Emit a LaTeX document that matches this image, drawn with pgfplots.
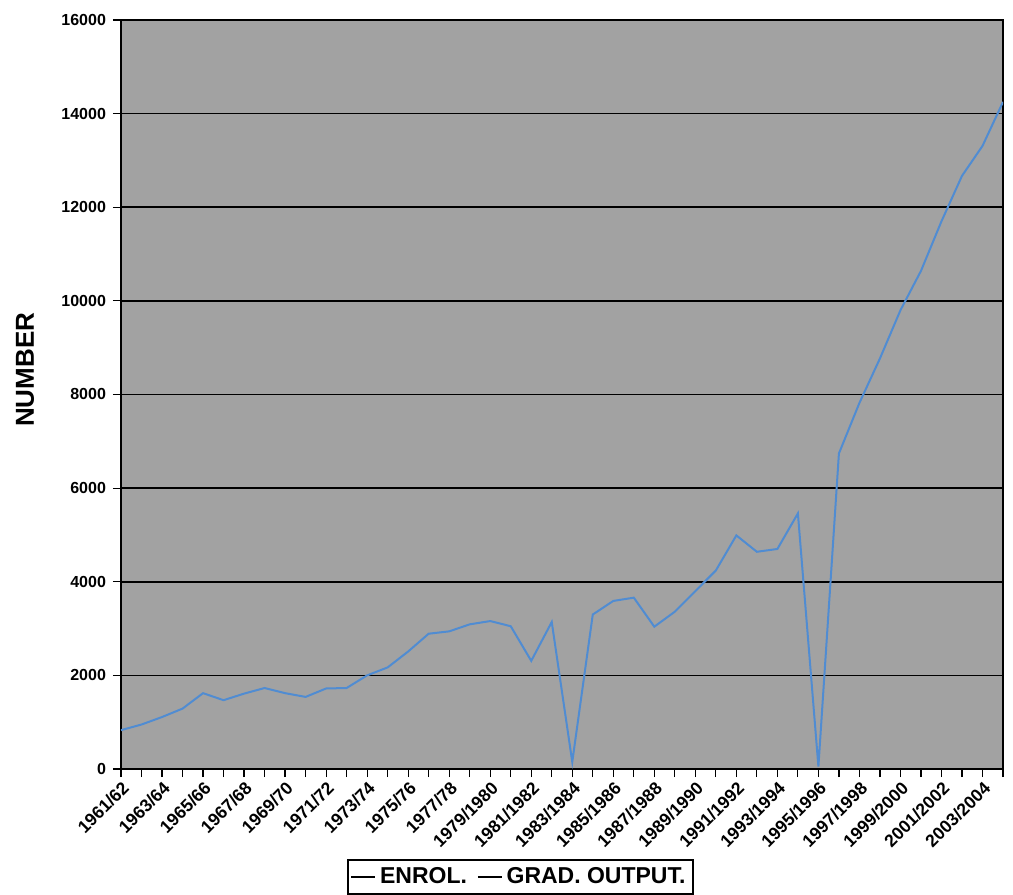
\documentclass[border=0pt]{standalone}
\usepackage{pgfplots}
\pgfplotsset{compat=1.18}
\usepackage{fontspec}
\setmainfont{Liberation Sans}
\definecolor{bgfill}{RGB}{162,162,162}
\definecolor{lineblue}{RGB}{80,140,210}
\begin{document}
\begin{tikzpicture}
\begin{axis}[
  scale only axis, width=441pt, height=374.5pt,
  xmin=0, xmax=43, ymin=0, ymax=16000,
  ytick={0,2000,...,16000},
  xtick={0,2,...,42},
  minor xtick={1,3,...,43},
  xticklabels={1961/62,1963/64,1965/66,1967/68,1969/70,1971/72,1973/74,1975/76,1977/78,1979/1980,1981/1982,1983/1984,1985/1986,1987/1988,1989/1990,1991/1992,1993/1994,1995/1996,1997/1998,1999/2000,2001/2002,2003/2004},
  xtick pos=bottom, ytick pos=left,
  x tick label style={rotate=45, anchor=north east, font=\bfseries\fontsize{8.8}{10}\selectfont, inner sep=1pt},
  y tick label style={font=\bfseries\fontsize{8}{10}\selectfont},
  /pgf/number format/assume math mode=true,
  /pgf/number format/1000 sep={},
  scaled y ticks=false,
  tick align=outside,
  major tick length=4pt, minor tick length=4pt,
  ymajorgrids, grid style={black, line width=0.8pt},
  axis background/.style={fill=bgfill},
  axis line style={black, line width=0.6pt},
  tick style={black, line width=0.6pt},
  minor tick style={black, line width=0.6pt},
  ylabel={\bfseries NUMBER},
  ylabel style={font=\fontsize{13}{15}\selectfont, at={(axis description cs:-0.1088,0.533)}, anchor=center},
  legend style={at={(0.4524,-0.1442)}, anchor=center, legend columns=2, draw=black, line width=1pt,
    font=\bfseries\fontsize{11.5}{14}\selectfont, inner sep=1.5pt,
    /tikz/every even column/.append style={column sep=3pt}},
  legend image code/.code={\draw[#1] (0pt,0pt) -- (12pt,0pt);},
]
\addplot[lineblue, line width=1pt, forget plot] coordinates {
(0,830) (1,950) (2,1110) (3,1290) (4,1620) (5,1470) (6,1610) (7,1730) (8,1620) (9,1540)
(10,1720) (11,1730) (12,2000) (13,2170) (14,2510) (15,2890) (16,2940) (17,3090) (18,3160) (19,3050)
(20,2310) (21,3140) (22,150) (23,3300) (24,3590) (25,3660) (26,3040) (27,3360) (28,3800) (29,4240)
(30,4990) (31,4640) (32,4700) (33,5460) (34,50) (35,6740) (36,7820) (37,8770) (38,9800) (39,10640)
(40,11700) (41,12670) (42,13310) (43,14250)
};
\addlegendimage{black, line width=0.8pt}
\addlegendentry{ENROL.}
\addlegendimage{black, line width=0.8pt}
\addlegendentry{GRAD. OUTPUT.}
\end{axis}
\path (current axis.south west) ++(-60.5pt,-62pt);
\path (current axis.north east) ++(5pt,10pt);
\end{tikzpicture}
\end{document}
